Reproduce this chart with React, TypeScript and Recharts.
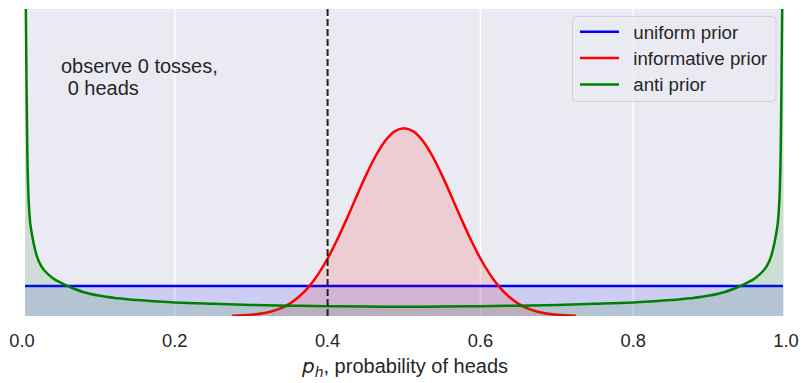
import { ComposedChart, Area, XAxis, YAxis, CartesianGrid, ReferenceLine, Customized } from "recharts";

// p_h grid and densities
const UNIFORM_P = [0.004, 0.996];
const UNIFORM_D = [1, 1];

const INFORM_P = [
  0.275, 0.3, 0.325, 0.3375, 0.35, 0.3625, 0.375, 0.3875, 0.4, 0.4125, 0.425, 0.4375, 0.45, 0.4625, 0.475,
  0.4875, 0.5, 0.5125, 0.525, 0.5375, 0.55, 0.5625, 0.575, 0.5875, 0.6, 0.6125, 0.625, 0.6375, 0.65, 0.6625, 0.675,
  0.7, 0.725,
];
const INFORM_D = [
  0.0088, 0.04, 0.141, 0.246, 0.406, 0.64, 0.963, 1.388, 1.916, 2.54, 3.236, 3.965, 4.678, 5.315, 5.822,
  6.147, 6.26, 6.147, 5.822, 5.315, 4.678, 3.965, 3.236, 2.54, 1.916, 1.388, 0.963, 0.64, 0.406, 0.246, 0.141,
  0.04, 0.0088,
];

const ANTI_P = [
  0.004, 0.005, 0.006, 0.007, 0.008, 0.01, 0.0125, 0.015, 0.02, 0.025, 0.03, 0.04, 0.05, 0.06, 0.08, 0.1, 0.125,
  0.15, 0.2, 0.25, 0.3, 0.35, 0.4, 0.45, 0.5, 0.55, 0.6, 0.65, 0.7, 0.75, 0.8, 0.85, 0.875, 0.9, 0.92, 0.94, 0.95,
  0.96, 0.97, 0.975, 0.98, 0.985, 0.9875, 0.99, 0.992, 0.993, 0.994, 0.995, 0.996,
];
const ANTI_D = [
  12.5, 10.3, 7.5, 5.4, 4.3, 3.3, 2.8, 2.45, 1.95, 1.67, 1.5, 1.27, 1.12, 1.0, 0.8, 0.68, 0.59, 0.53, 0.45, 0.405,
  0.37, 0.345, 0.326, 0.314, 0.31, 0.314, 0.326, 0.345, 0.37, 0.405, 0.45, 0.53, 0.59, 0.68, 0.8, 1.0, 1.12, 1.27,
  1.5, 1.67, 1.95, 2.45, 2.8, 3.3, 4.3, 5.4, 7.5, 10.3, 12.5,
];

const X_TICKS = [0, 0.2, 0.4, 0.6, 0.8, 1.0];
const OBSERVED_P = 0.4;
const Y_MAX = 10.23;

const SERIES = [
  { key: "uniform", name: "uniform prior", color: "#0000ff", p: UNIFORM_P, d: UNIFORM_D },
  { key: "informative", name: "informative prior", color: "#ff0000", p: INFORM_P, d: INFORM_D },
  { key: "anti", name: "anti prior", color: "#008000", p: ANTI_P, d: ANTI_D },
];

const FONT = "'Liberation Sans', Arial, sans-serif";
const TEXT = "#262626";

function buildRows() {
  const byP = new Map<number, Record<string, number>>();
  SERIES.forEach((s) => {
    s.p.forEach((p, i) => {
      const row = byP.get(p) || { p };
      row[s.key] = s.d[i];
      byP.set(p, row);
    });
  });
  return Array.from(byP.values()).sort((a, b) => a.p - b.p);
}

const rows = buildRows();

function Overlay() {
  return (
    <g fontFamily={FONT} fill={TEXT}>
      <text x={61} y={72.7} fontSize={20}>observe 0 tosses,</text>
      <text x={67.7} y={95} fontSize={20}>0 heads</text>

      <text x={405} y={372.7} fontSize={20} textAnchor="middle">
        <tspan fontStyle="italic" fontFamily="'DejaVu Sans', sans-serif">p</tspan>
        <tspan fontStyle="italic" fontFamily="'DejaVu Sans', sans-serif" fontSize={14} dy={4}>h</tspan>
        <tspan dy={-4}>, probability of heads</tspan>
      </text>

      <rect x={572.5} y={16.5} width={203.5} height={85} rx={4} fill="#EAEAF2" fillOpacity={0.8} stroke="#cccccc" strokeOpacity={0.8} />
      {SERIES.map((s, i) => (
        <g key={s.key}>
          <line x1={580} x2={619} y1={31.7 + i * 26.4} y2={31.7 + i * 26.4} stroke={s.color} strokeWidth={2.5} />
          <text x={633.3} y={38.5 + i * 26.4} fontSize={18.7}>{s.name}</text>
        </g>
      ))}
    </g>
  );
}

export default function App() {
  return (
    <div style={{ position: "absolute", left: 0, top: 0, width: 802, height: 383, background: "#fff" }}>
      <ComposedChart width={802} height={383} data={rows} margin={{ top: 9, right: 16, bottom: 7, left: 22 }}>
        <CartesianGrid
          x={25}
          width={759}
          horizontal={false}
          stroke="#ffffff"
          strokeWidth={1.5}
          fill="#EAEAF2"
          fillOpacity={1}
        />
        <XAxis
          type="number"
          dataKey="p"
          domain={[0, 1]}
          ticks={X_TICKS}
          interval={0}
          tickFormatter={(v: number) => v.toFixed(1)}
          axisLine={false}
          tickLine={false}
          tickSize={0}
          tickMargin={18}
          height={60}
          tick={{ fill: TEXT, fontSize: 18.3, fontFamily: FONT }}
        />
        <YAxis hide domain={[0, Y_MAX]} allowDataOverflow />
        {SERIES.map((s) => (
          <Area
            key={s.key}
            type="monotone"
            dataKey={s.key}
            name={s.name}
            stroke={s.color}
            strokeWidth={2.5}
            fill={s.color}
            fillOpacity={0.12}
            connectNulls
            dot={false}
            activeDot={false}
            isAnimationActive={false}
          />
        ))}
        <ReferenceLine x={OBSERVED_P} stroke="#222222" strokeWidth={2} strokeDasharray="7 3" />
        <Customized component={<Overlay />} />
      </ComposedChart>
    </div>
  );
}
